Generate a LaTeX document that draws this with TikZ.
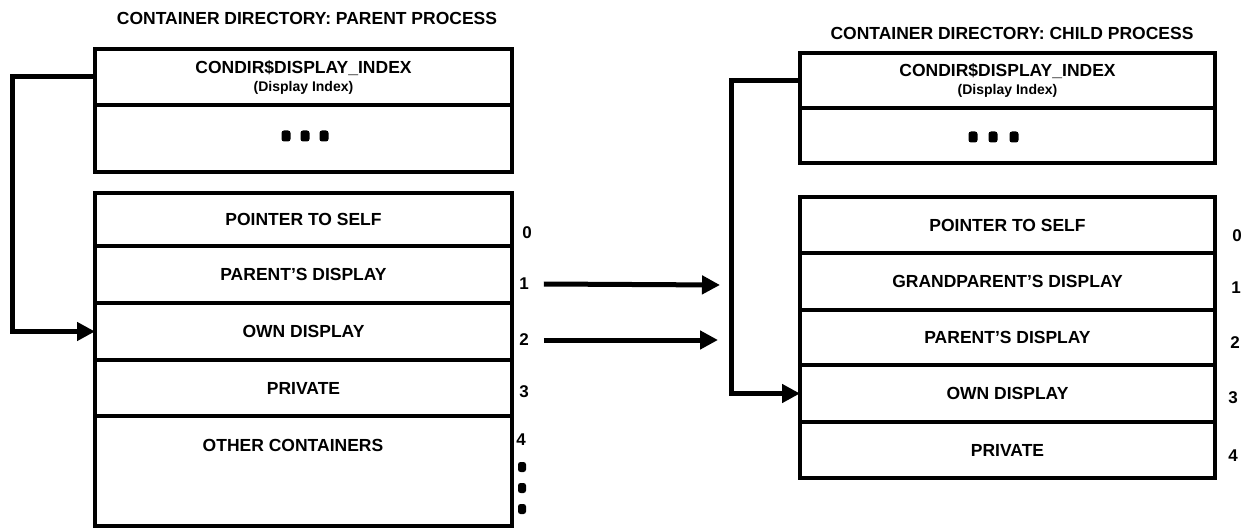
\documentclass[tikz,border=0pt]{standalone}
\usepackage{fontspec}
\setmainfont{Liberation Sans}
\usetikzlibrary{arrows.meta}
\begin{document}
\begin{tikzpicture}[x=1pt,y=-1pt,
  txt/.style={font=\bfseries\fontsize{17.5}{19}\selectfont, inner sep=0pt},
  row/.style={draw, line width=4pt, rectangle, inner sep=0pt, outer sep=0pt, align=center, font=\bfseries\fontsize{17.5}{19}\selectfont},
  lrow/.style={row, minimum width=417pt},
  rrow/.style={row, minimum width=415pt},
  idx/.style={font=\bfseries\fontsize{17}{19}\selectfont, inner sep=0pt},
  bul/.style={fill, rounded corners=2.5pt, minimum width=9pt, minimum height=11pt, inner sep=0pt},
  conn/.style={line width=5pt, -{Triangle[length=18pt,width=18pt]}},
  sub/.style={font=\bfseries\fontsize{14}{15}\selectfont}
]
\useasboundingbox (0,0) rectangle (1247,529);

% ---------- left: parent process ----------
\node[txt] (ltitle) at (307,18) {CONTAINER DIRECTORY: PARENT PROCESS};
\node[lrow, minimum height=56pt] (lt1) at (303.5,77) {CONDIR\$DISPLAY\_INDEX\\[-1pt]{\bfseries\fontsize{14}{15}\selectfont (Display Index)}};
\node[lrow, minimum height=67pt] (lt2) at (303.5,138.5) {};
\node[bul] (ld1) at (286,136) {};
\node[bul] (ld2) at (305,136) {};
\node[bul] (ld3) at (324,136) {};

\node[lrow, minimum height=53pt] (lb1) at (303.5,219.5) {POINTER TO SELF};
\node[lrow, minimum height=57pt] (lb2) at (303.5,274.5) {PARENT'S DISPLAY};
\node[lrow, minimum height=57pt] (lb3) at (303.5,331.5) {OWN DISPLAY};
\node[lrow, minimum height=56pt] (lb4) at (303.5,388) {PRIVATE};
\node[lrow, minimum height=110pt] (lb5) at (303.5,471) {};
\node[txt] (lb5t) at (293,445) {OTHER CONTAINERS};

\node[idx] (li0) at (527,233) {0};
\node[idx] (li1) at (524,284) {1};
\node[idx] (li2) at (524,340) {2};
\node[idx] (li3) at (524,392) {3};
\node[idx] (li4) at (521,440) {4};
\node[bul, minimum width=8pt, minimum height=10pt] (lid1) at (522,467) {};
\node[bul, minimum width=8pt, minimum height=10pt] (lid2) at (522,488) {};
\node[bul, minimum width=8pt, minimum height=10pt] (lid3) at (522,509) {};

% ---------- right: child process ----------
\node[txt] (rtitle) at (1012,33) {CONTAINER DIRECTORY: CHILD PROCESS};
\node[rrow, minimum height=55pt] (rt1) at (1007.5,80.5) {CONDIR\$DISPLAY\_INDEX\\[-1pt]{\bfseries\fontsize{14}{15}\selectfont (Display Index)}};
\node[rrow, minimum height=55pt] (rt2) at (1007.5,135.5) {};
\node[bul] (rd1) at (973,137) {};
\node[bul] (rd2) at (993,137) {};
\node[bul] (rd3) at (1014,137) {};

\node[rrow, minimum height=56pt] (rb1) at (1007.5,225) {POINTER TO SELF};
\node[rrow, minimum height=57pt] (rb2) at (1007.5,281.5) {GRANDPARENT'S DISPLAY};
\node[rrow, minimum height=55pt] (rb3) at (1007.5,337.5) {PARENT'S DISPLAY};
\node[rrow, minimum height=57pt] (rb4) at (1007.5,393.5) {OWN DISPLAY};
\node[rrow, minimum height=56pt] (rb5) at (1007.5,450) {PRIVATE};

\node[idx] (ri0) at (1237,236) {0};
\node[idx] (ri1) at (1236,288) {1};
\node[idx] (ri2) at (1235,343) {2};
\node[idx] (ri3) at (1233,398) {3};
\node[idx] (ri4) at (1233,456) {4};

% ---------- connectors ----------
\coordinate (a1) at (720,285);
\coordinate (a2) at (718,340);
\draw[conn] ([xshift=15pt]li1.east) -- (a1);
\draw[conn] ([xshift=15pt]li2.east) -- (a2);
\draw[conn] (lt1.west) -- ++(-83,0) |- (lb3.west);
\draw[conn] (rt1.west) -- ++(-69,0) |- (rb4.west);
\end{tikzpicture}
\end{document}
